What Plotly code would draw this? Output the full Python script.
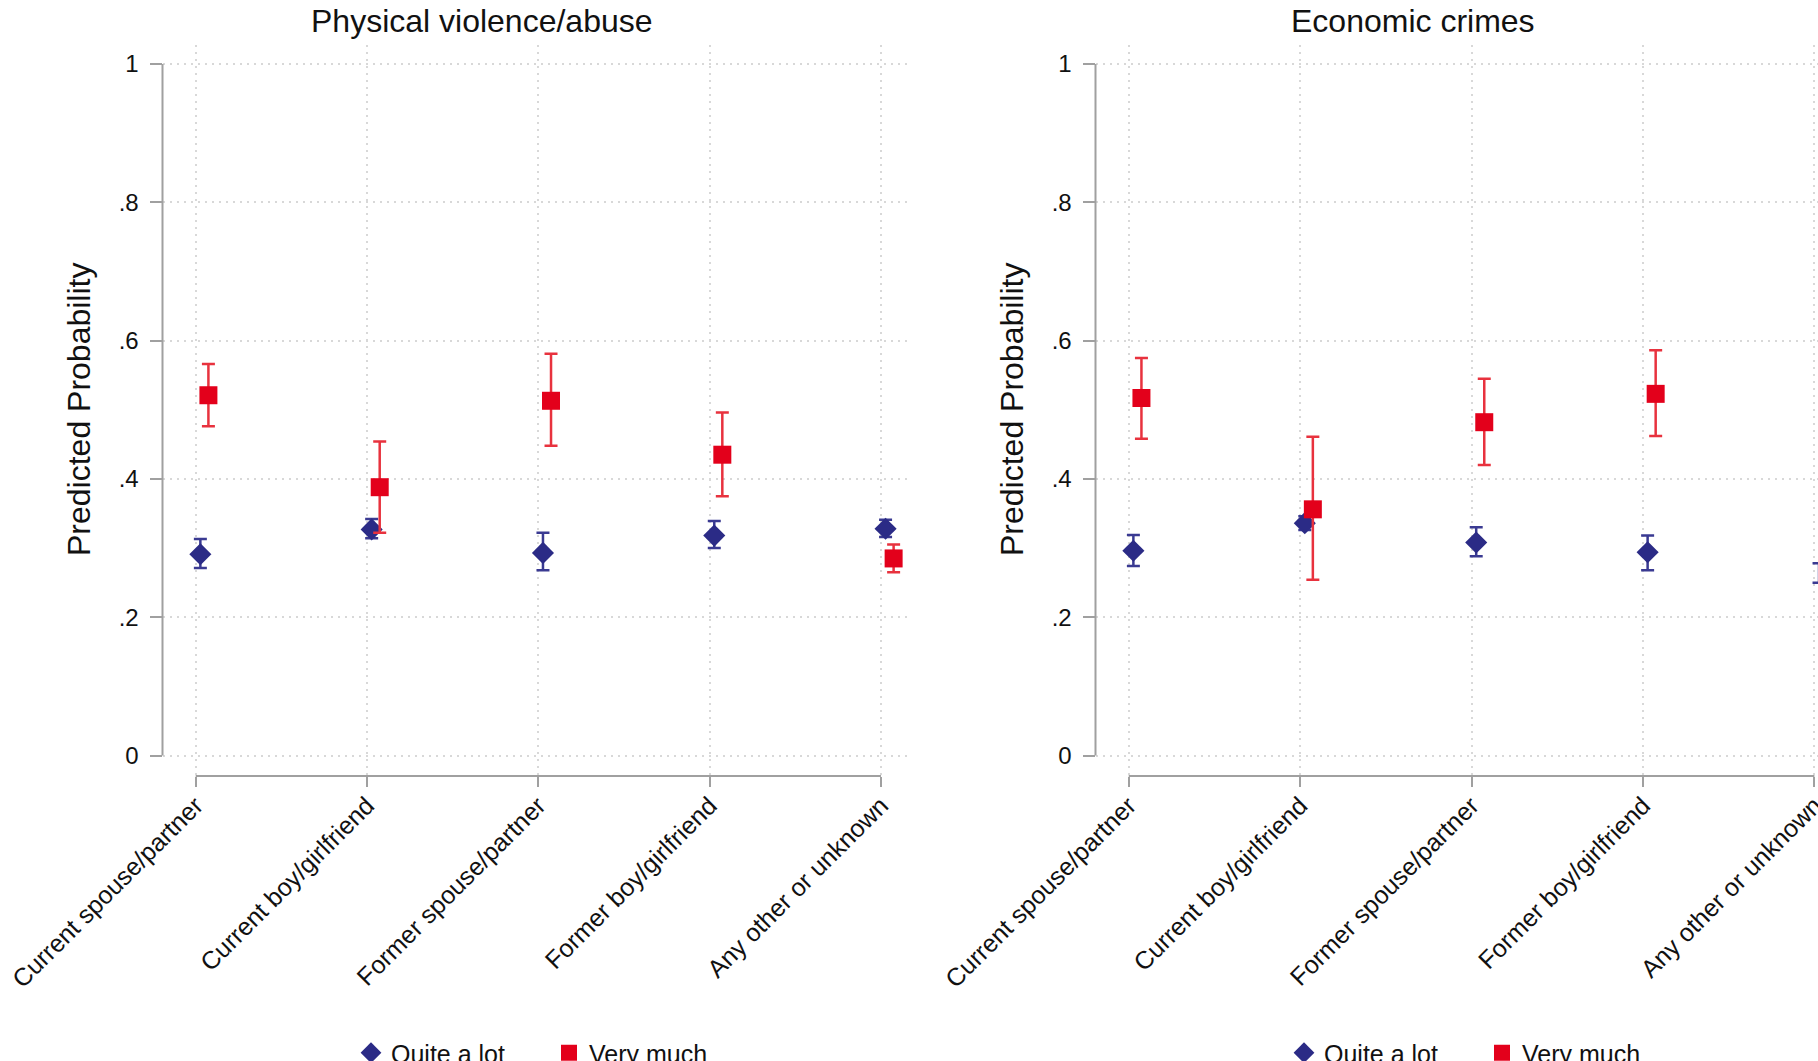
import plotly.graph_objects as go

# ---------------- data ----------------
categories = ["Current spouse/partner", "Current boy/girlfriend", "Former spouse/partner",
              "Former boy/girlfriend", "Any other or unknown"]
panel_titles = ["Physical violence/abuse", "Economic crimes"]
series_names = ["Quite a lot", "Very much"]
y_ticks = [0, 0.2, 0.4, 0.6, 0.8, 1]
y_tick_labels = ["0", ".2", ".4", ".6", ".8", "1"]

# Physical violence/abuse
phys_quite = [0.291, 0.327, 0.293, 0.318, 0.328]
phys_quite_lo = [0.271, 0.314, 0.268, 0.300, 0.316]
phys_quite_hi = [0.313, 0.342, 0.322, 0.339, 0.341]
phys_very = [0.521, 0.388, 0.513, 0.435, 0.285]
phys_very_lo = [0.476, 0.322, 0.448, 0.375, 0.265]
phys_very_hi = [0.566, 0.454, 0.581, 0.496, 0.305]

# Economic crimes
econ_quite = [0.296, 0.336, 0.308, 0.294, 0.264]
econ_quite_lo = [0.274, 0.326, 0.288, 0.268, 0.250]
econ_quite_hi = [0.319, 0.346, 0.330, 0.318, 0.278]
econ_very = [0.517, 0.356, 0.482, 0.523, 0.146]
econ_very_lo = [0.458, 0.254, 0.420, 0.462, 0.120]
econ_very_hi = [0.575, 0.461, 0.545, 0.586, 0.170]

# ---------------- style ----------------
W, H = 1818, 1061
FONT = "Liberation Sans, Arial, sans-serif"
NAVY = "#2b2b86"
NAVY_EB = "#3a3a92"
RED = "#e3001b"
RED_EB = "#e8323e"
AXIS = "#a0a0a0"
GRID = "#d8d8d8"
offsets = [0.027, 0.074]

x_idx = list(range(1, len(categories) + 1))

panels = [
    dict(title=panel_titles[0], quite=(phys_quite, phys_quite_lo, phys_quite_hi),
         very=(phys_very, phys_very_lo, phys_very_hi),
         dom=(162.5, 910.0), xr=(0.806, 5.1696), title_x=482, ytitle_x=79,
         leg_x=351),
    dict(title=panel_titles[1], quite=(econ_quite, econ_quite_lo, econ_quite_hi),
         very=(econ_very, econ_very_lo, econ_very_hi),
         dom=(1095.5, 1818.0), xr=(0.806, 5.021), title_x=1413, ytitle_x=1012,
         leg_x=1284),
]

plot_top, plot_bot = 45.0, 776.0
y_range = [-0.02965, 1.0275]

fig = go.Figure()
annotations = []
shapes = []
layout = dict(
    width=W, height=H,
    margin=dict(l=0, r=0, t=0, b=0, autoexpand=False),
    paper_bgcolor="white", plot_bgcolor="white",
    font=dict(family=FONT, color="#111111"),
    showlegend=True,
)

for i, p in enumerate(panels):
    sfx = "" if i == 0 else str(i + 1)
    xa, ya = "x" + sfx, "y" + sfx
    leg = "legend" if i == 0 else "legend" + str(i + 1)
    for k, (key, color, ecolor, sym, size) in enumerate([
            ("quite", NAVY, NAVY_EB, "diamond", 17),
            ("very", RED, RED_EB, "square", 18)]):
        est, lo, hi = p[key]
        fig.add_trace(go.Scatter(
            x=[xi + offsets[k] for xi in x_idx], y=est,
            mode="markers", name=series_names[k],
            marker=dict(symbol=sym, size=size, color=color, line=dict(width=0)),
            error_y=dict(type="data", symmetric=False,
                         array=[h - e for h, e in zip(hi, est)],
                         arrayminus=[e - l for e, l in zip(est, lo)],
                         color=ecolor, thickness=2.5, width=6.5),
            cliponaxis=False, xaxis=xa, yaxis=ya, legend=leg,
        ))
    d0, d1 = p["dom"]
    layout["xaxis" + sfx] = dict(
        domain=[d0 / W, d1 / W], range=list(p["xr"]), anchor=ya,
        tickmode="array", tickvals=x_idx, ticktext=categories, tickangle=-45,
        ticks="outside", ticklen=10, tickwidth=2, tickcolor=AXIS,
        ticklabelstandoff=-6, ticklabeloverflow="allow",
        tickfont=dict(size=25, family=FONT, color="#111111"),
        showgrid=True, gridcolor=GRID, gridwidth=1.5, griddash="2px,5px",
        showline=False, zeroline=False, fixedrange=True,
    )
    layout["yaxis" + sfx] = dict(
        domain=[1 - plot_bot / H, 1 - plot_top / H], range=y_range, anchor=xa,
        tickmode="array", tickvals=y_ticks, ticktext=y_tick_labels,
        ticks="outside", ticklen=12, tickwidth=2, tickcolor=AXIS,
        ticklabelstandoff=6, ticklabeloverflow="allow",
        tickfont=dict(size=24, family=FONT, color="#111111"),
        showgrid=True, gridcolor=GRID, gridwidth=1.5, griddash="2px,5px",
        showline=False, zeroline=False, fixedrange=True,
    )
    # axis lines (Stata style: y axis from 0 to 1, x axis from first to last category)
    shapes.append(dict(type="line", xref=xa + " domain", yref=ya, x0=0, x1=0,
                       y0=y_ticks[0], y1=y_ticks[-1], line=dict(color=AXIS, width=2),
                       layer="above"))
    shapes.append(dict(type="line", xref=xa, yref=ya + " domain", x0=x_idx[0],
                       x1=x_idx[-1], y0=0, y1=0, line=dict(color=AXIS, width=2),
                       layer="above"))
    annotations.append(dict(text=p["title"], x=p["title_x"] / W, y=1 - 21 / H,
                            xref="paper", yref="paper", showarrow=False,
                            xanchor="center", yanchor="middle",
                            font=dict(size=32, family=FONT, color="#111111")))
    annotations.append(dict(text="Predicted Probability", x=p["ytitle_x"] / W,
                            y=1 - 410 / H, xref="paper", yref="paper",
                            showarrow=False, textangle=-90, xanchor="center",
                            yanchor="middle",
                            font=dict(size=32, family=FONT, color="#111111")))
    layout[leg] = dict(orientation="h", x=p["leg_x"] / W, y=1 - 1030 / H,
                       xanchor="left", yanchor="top", bgcolor="rgba(0,0,0,0)",
                       borderwidth=0, font=dict(size=25, family=FONT, color="#111111"),
                       entrywidth=153, entrywidthmode="pixels",
                       itemclick=False, itemdoubleclick=False)

layout["annotations"] = annotations
layout["shapes"] = shapes
fig.update_layout(**layout)
fig.write_html("out.html", config={"displayModeBar": False},
               post_script="document.body.style.margin='0px';document.body.style.overflow='hidden';")
